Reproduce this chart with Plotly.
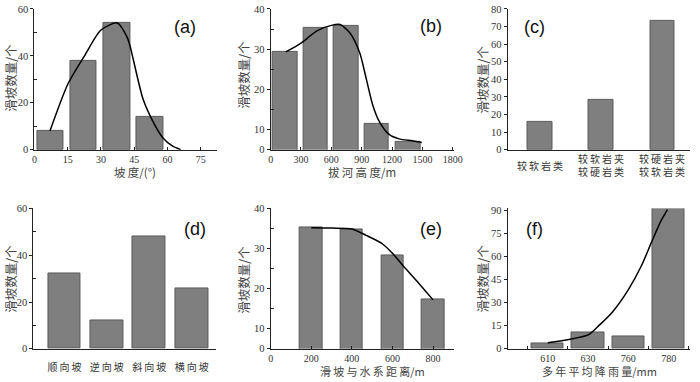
import plotly.graph_objects as go

# ---------------- data ----------------
slope_x = [7.2, 22.2, 37.2, 52.2]
slope_counts = [8, 38, 54, 14]
slope_curve_x = [7, 15, 22.6, 30, 37.4, 41.8, 43.2, 44.7, 49, 53.5, 58, 62.4, 66]
slope_curve_y = [8, 27.8, 40, 51, 54, 48, 44, 38, 21.6, 12, 5, 1.5, 0]

elev_x = [147, 445, 747, 1047, 1360]
elev_counts = [29.3, 35.4, 35.8, 11.5, 6.9]
elev_curve_x = [150, 300, 461, 600, 687, 784, 880, 945, 1010, 1074, 1171, 1268, 1397, 1494]
elev_curve_y = [29.3, 31.5, 34.6, 35.9, 36.1, 34, 29.1, 22.6, 16, 12, 8.8, 7.7, 7.2, 6.8]

rock_labels = ["较软岩类", "较软岩夹<br>较硬岩类", "较硬岩夹<br>较软岩类"]
rock_counts = [16, 28.5, 73]

aspect_labels = ["顺向坡", "逆向坡", "斜向坡", "横向坡"]
aspect_counts = [32, 12, 48, 26]

dist_x = [200, 400, 600, 800]
dist_counts = [35.3, 34.8, 28.4, 17.2]
dist_curve_x = [200, 300, 400, 470, 550, 600, 663, 727, 800]
dist_curve_y = [35.2, 35.1, 34.9, 33.3, 31.2, 28.8, 25.1, 21.5, 17.2]

rain_labels = ["610", "630", "760", "780"]
rain_counts = [3.6, 10.7, 7.8, 91]
rain_curve_x = [0, 0.49, 1, 1.28, 1.6, 2, 2.33, 2.57, 2.8, 2.97]
rain_curve_y = [4, 5.9, 9, 15.4, 23.8, 38.5, 54.3, 69, 82.7, 90.5]

# ---------------- style ----------------
BAR_FILL = "#7f7f7f"
BAR_LINE = "#5a5a5a"
TICK_FONT = dict(family="Liberation Serif", size=10.5, color="#333333")
XTICK_FONT = dict(TICK_FONT, size=10)
CJK = "Noto Sans CJK SC"
CAT_FONT = dict(family=CJK, size=10, color="#333333")
W, H = 700, 382
SP = "\u2009"


def spaced(s):
    # letter-spaced CJK text, as in the reference
    return "<br>".join(SP.join(list(line)) for line in s.split("<br>"))


fig = go.Figure()


def bar(x, y, width, ax):
    fig.add_trace(go.Bar(x=x, y=y, width=width, marker=dict(color=BAR_FILL, line=dict(color=BAR_LINE, width=1)),
                         xaxis="x" + ax, yaxis="y" + ax, showlegend=False))


def curve(x, y, ax):
    fig.add_trace(go.Scatter(x=x, y=y, mode="lines", line=dict(color="black", width=1.5, shape="spline", smoothing=0.7),
                             xaxis="x" + ax, yaxis="y" + ax, showlegend=False))


bar(slope_x, slope_counts, 12, "")
curve(slope_curve_x, slope_curve_y, "")
bar(elev_x, elev_counts, 245, "2")
curve(elev_curve_x, elev_curve_y, "2")
bar(list(range(len(rock_counts))), rock_counts, 0.4, "3")
bar(list(range(len(aspect_counts))), aspect_counts, 0.77, "4")
bar(dist_x, dist_counts, 110, "5")
curve(dist_curve_x, dist_curve_y, "5")
bar(list(range(len(rain_counts))), rain_counts, 0.8, "6")
curve(rain_curve_x, rain_curve_y, "6")


def px_x(a, b):
    return [a / W, b / W]


def px_y(top, bottom):
    return [1 - bottom / H, 1 - top / H]


base_axis = dict(showline=True, linecolor="#222222", linewidth=1, showgrid=False, zeroline=False,
                 tickfont=TICK_FONT, ticklen=3, tickcolor="#222222", fixedrange=True)


def xa(domain, anchor, rng, **kw):
    d = dict(base_axis)
    d.update(domain=domain, anchor=anchor, range=rng, tickfont=XTICK_FONT)
    d.update(kw)
    return d


def ya(domain, anchor, rng, **kw):
    d = dict(base_axis)
    d.update(domain=domain, anchor=anchor, range=rng, ticks="outside")
    d.update(kw)
    return d


MINOR = dict(ticks="inside", ticklen=3, tickcolor="#222222")
top_row = px_y(4, 149)
bottom_row = px_y(209.5, 354)
fig.update_layout(
    width=W, height=H, margin=dict(l=0, r=0, t=0, b=0),
    paper_bgcolor="white", plot_bgcolor="white", bargap=0,
    xaxis=xa(px_x(32, 218), "y", [0, 82.5], tickvals=[0, 15, 30, 45, 60, 75], ticks="inside"),
    yaxis=ya(top_row, "x", [0, 60], tickvals=[0, 20, 40, 60], minor=dict(tickvals=[10, 30, 50], **MINOR)),
    xaxis2=xa(px_x(272.3, 459), "y2", [0, 1813], tickvals=[0, 300, 600, 900, 1200, 1500, 1800], ticks="inside"),
    yaxis2=ya(top_row, "x2", [5, 40], tickvals=[5, 10, 20, 30, 40], ticktext=["0", "10", "20", "30", "40"],
              minor=dict(tickvals=[15, 25, 35], **MINOR)),
    xaxis3=xa(px_x(513.3, 699), "y3", [-0.53, 2.45], showticklabels=False, ticks=""),
    yaxis3=ya(top_row, "x3", [0, 80], dtick=10),
    xaxis4=xa(px_x(31, 217), "y4", [-0.73, 3.58], tickvals=[0, 1, 2, 3],
              ticktext=[spaced(s) for s in aspect_labels], ticks="", tickfont=CAT_FONT, ticklabelstandoff=9),
    yaxis4=ya(bottom_row, "x4", [0, 60], tickvals=[0, 20, 40, 60], minor=dict(tickvals=[10, 30, 50], **MINOR)),
    xaxis5=xa(px_x(272.3, 459.3), "y5", [0, 905], tickvals=[0, 200, 400, 600, 800], ticks="inside"),
    yaxis5=ya(bottom_row, "x5", [5, 40], tickvals=[5, 10, 20, 30, 40], ticktext=["0", "10", "20", "30", "40"],
              minor=dict(tickvals=[15, 25, 35], **MINOR)),
    xaxis6=xa(px_x(513.3, 699), "y6", [-1, 3.53], tickvals=[0, 1, 2, 3], ticktext=rain_labels, ticks="inside",
              ticklen=0, minor=dict(tickvals=[-0.5, 0.5, 1.5, 2.5, 3.5], **MINOR)),
    yaxis6=ya(bottom_row, "x6", [0, 91.2], tickvals=[0, 15, 30, 45, 60, 75, 90]),
)

TITLE_FONT = dict(family=CJK, size=12.5, color="#444444")
XTITLE_FONT = dict(TITLE_FONT, size=11.5)
PANEL_FONT = dict(family="Liberation Sans", size=18, color="#111111")


def ann(text, x, y, font, angle=0):
    fig.add_annotation(text=text, x=x / W, y=1 - y / H, xref="paper", yref="paper", showarrow=False,
                       textangle=angle, font=font, xanchor="center", yanchor="middle")


# category labels for panel (c), vertically centred under each bar
for i, lab in enumerate(rock_labels):
    fig.add_annotation(text=spaced(lab), x=i, xref="x3", y=1 - 165 / H, yref="paper", showarrow=False,
                       font=CAT_FONT, xanchor="center", yanchor="middle")

# y-axis titles
for (x, y) in [(8, 75), (245, 72), (488, 77), (8, 282), (245, 283), (488, 282)]:
    ann("滑坡数量/个", x, y, TITLE_FONT, angle=-90)

# x-axis titles
ann(spaced("坡度") + "/(°)", 134, 171.5, XTITLE_FONT)
ann(spaced("拔河高度") + "/m", 365, 171.5, XTITLE_FONT)
ann(spaced("滑坡与水系距离") + "/m", 376, 376.5, dict(XTITLE_FONT, size=11))
ann(spaced("多年平均降雨量") + "/mm", 607, 376.5, dict(XTITLE_FONT, size=11))

# panel labels
for text, x, y in [("(a)", 185, 23), ("(b)", 435, 22), ("(c)", 541, 23),
                   ("(d)", 195, 231), ("(e)", 435, 231), ("(f)", 541, 231)]:
    ann(text, x, y, PANEL_FONT)

fig.write_html("out.html", config={"displayModeBar": False},
               post_script="document.body.style.margin='0';document.body.style.overflow='hidden';")
